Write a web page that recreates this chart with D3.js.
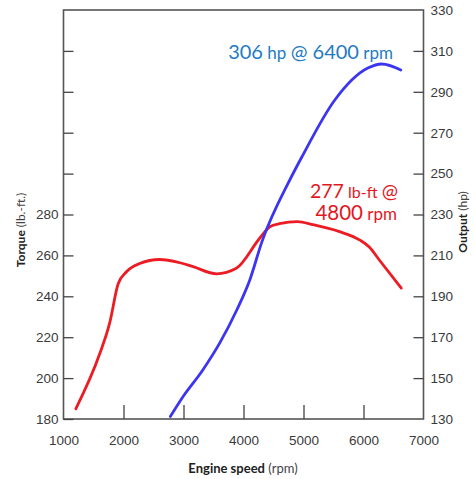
<!DOCTYPE html>
<html>
<head>
<meta charset="utf-8">
<script src="https://cdn.jsdelivr.net/npm/d3@7"></script>
<style>
  body { margin: 0; background: #fff; }
  svg { display: block; font-family: Lato, "Open Sans", sans-serif; }
</style>
</head>
<body>
<script>
// torque curve (lb-ft)
var torqueRpm = [1205, 1605, 1770, 1910, 2050, 2270, 2600, 2940, 3160, 3550, 3880, 4270, 4440, 4600, 4900, 5160, 5600, 5940, 6100, 6270, 6630];
var torqueVal = [185, 212, 227, 246, 252, 256, 258, 256.4, 254.5, 251, 253.7, 268.4, 274, 275.5, 276.5, 275, 271.6, 267.5, 264, 257.5, 244];

// power curve (hp)
var powerRpm = [2780, 2988, 3322, 3605, 3888, 4105, 4305, 4772, 4972, 5522, 6072, 6305, 6622];
var powerVal = [131.2, 140.8, 154, 167.2, 183.3, 198, 216.5, 246.9, 258.1, 286, 301.6, 303.6, 300.7];

var rpmTicks = [1000, 2000, 3000, 4000, 5000, 6000, 7000];
var torqueTicks = [180, 200, 220, 240, 260, 280, 300, 320, 340, 360];
var torqueLabeled = [180, 200, 220, 240, 260, 280];
var powerTicks = [130, 150, 170, 190, 210, 230, 250, 270, 290, 310, 330];

var width = 475, height = 479;
var plotLeft = 63.5, plotRight = 423.5, plotTop = 10, plotBottom = 419;

var svg = d3.select('body')
    .append('svg')
    .attr('width', width)
    .attr('height', height);

var x = d3.scaleLinear().domain([1000, 7000]).range([plotLeft, plotRight]);
var yT = d3.scaleLinear().domain([180, 380]).range([plotBottom, plotTop]);
var yP = d3.scaleLinear().domain([130, 330]).range([plotBottom, plotTop]);

// frame
svg.append('rect')
    .attr('x', plotLeft).attr('y', plotTop)
    .attr('width', plotRight - plotLeft).attr('height', plotBottom - plotTop)
    .attr('fill', 'none')
    .attr('stroke', '#555')
    .attr('stroke-width', 1.6);

function styleAxis(g) {
    g.select('.domain').remove();
    g.selectAll('.tick line').attr('stroke', '#444').attr('stroke-width', 1.3);
    g.selectAll('.tick text')
        .attr('fill', '#3a3a3a')
        .style('font-size', '13.5px');
}

svg.append('g')
    .attr('transform', 'translate(' + plotLeft + ',0)')
    .call(d3.axisLeft(yT)
        .tickValues(torqueTicks)
        .tickSizeInner(-10).tickSizeOuter(0).tickPadding(5)
        .tickFormat(function (d) { return torqueLabeled.indexOf(d) >= 0 ? d : ''; }))
    .call(styleAxis);

svg.append('g')
    .attr('transform', 'translate(' + plotRight + ',0)')
    .call(d3.axisRight(yP)
        .tickValues(powerTicks)
        .tickSizeInner(-10).tickSizeOuter(0).tickPadding(7))
    .call(styleAxis)
    .call(function (g) {
        // no tick marks at the frame corners
        g.selectAll('.tick line').filter(function (d) { return d === 130 || d === 330; }).remove();
    });

svg.append('g')
    .attr('transform', 'translate(0,' + plotBottom + ')')
    .call(d3.axisBottom(x)
        .tickValues(rpmTicks)
        .tickSizeInner(-14).tickSizeOuter(0).tickPadding(16)
        .tickFormat(d3.format('d')))
    .call(styleAxis)
    .call(function (g) {
        g.selectAll('.tick line').filter(function (d) { return d === 1000 || d === 7000; }).remove();
    });

// curves
var torqueData = torqueRpm.map(function (r, i) { return [r, torqueVal[i]]; });
var powerData = powerRpm.map(function (r, i) { return [r, powerVal[i]]; });

svg.append('path')
    .datum(torqueData)
    .attr('fill', 'none')
    .attr('stroke', '#ec1c24')
    .attr('stroke-width', 2.8)
    .attr('stroke-linecap', 'round')
    .attr('d', d3.line()
        .x(function (d) { return x(d[0]); })
        .y(function (d) { return yT(d[1]); })
        .curve(d3.curveMonotoneX));

svg.append('path')
    .datum(powerData)
    .attr('fill', 'none')
    .attr('stroke', '#3b35f2')
    .attr('stroke-width', 2.8)
    .attr('stroke-linecap', 'round')
    .attr('d', d3.line()
        .x(function (d) { return x(d[0]); })
        .y(function (d) { return yP(d[1]); })
        .curve(d3.curveMonotoneX));

// axis titles
var xt = svg.append('text')
    .attr('x', 243).attr('y', 473)
    .attr('text-anchor', 'middle')
    .attr('fill', '#222')
    .style('font-size', '13px');
xt.append('tspan').attr('font-weight', 'bold').text('Engine speed');
xt.append('tspan').attr('fill', '#444').text(' (rpm)');

var lt = svg.append('text')
    .attr('transform', 'translate(25,230) rotate(-90)')
    .attr('text-anchor', 'middle')
    .attr('fill', '#222')
    .style('font-size', '12px');
lt.append('tspan').attr('font-weight', 'bold').text('Torque');
lt.append('tspan').attr('fill', '#444').text(' (lb.-ft.)');

var rt = svg.append('text')
    .attr('transform', 'translate(467,222) rotate(-90)')
    .attr('text-anchor', 'middle')
    .attr('fill', '#222')
    .style('font-size', '12px');
rt.append('tspan').attr('font-weight', 'bold').text('Output');
rt.append('tspan').attr('fill', '#444').text(' (hp)');

// callouts
var blue = svg.append('text')
    .attr('x', 393).attr('y', 59)
    .attr('text-anchor', 'end')
    .attr('fill', '#1f7bc2');
blue.append('tspan').style('font-size', '20px').text('306');
blue.append('tspan').style('font-size', '17px').text(' hp ');
blue.append('tspan').style('font-size', '20px').text('@ 6400');
blue.append('tspan').style('font-size', '17px').text(' rpm');

var red1 = svg.append('text')
    .attr('x', 398).attr('y', 198)
    .attr('text-anchor', 'end')
    .attr('fill', '#e3171f');
red1.append('tspan').style('font-size', '19.5px').text('277');
red1.append('tspan').style('font-size', '16px').text(' lb-ft ');
red1.append('tspan').style('font-size', '19.5px').text('@');

var red2 = svg.append('text')
    .attr('x', 397).attr('y', 220)
    .attr('text-anchor', 'end')
    .attr('fill', '#e3171f');
red2.append('tspan').style('font-size', '20.5px').text('4800');
red2.append('tspan').style('font-size', '17px').text(' rpm');
</script>
</body>
</html>
